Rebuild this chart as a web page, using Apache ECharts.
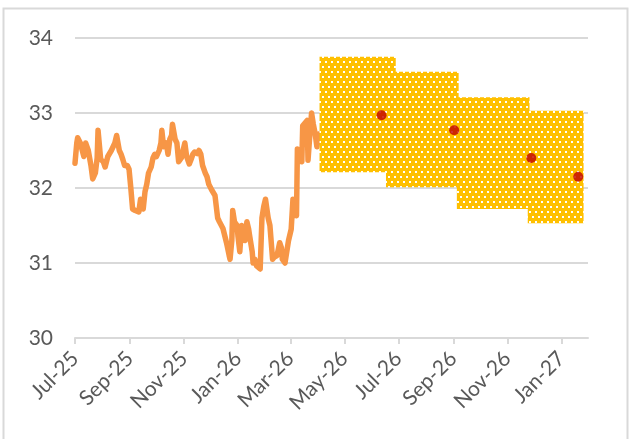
<!DOCTYPE html>
<html><head><meta charset="utf-8">
<script src="https://cdn.jsdelivr.net/npm/echarts@6/dist/echarts.min.js"></script>
<style>html,body{margin:0;padding:0;background:#fff}#c{width:632px;height:439px}</style>
</head><body><div id="c"></div>
<script>
// ---- data ----
const dates = ['2025-07-01','2025-07-03','2025-07-04','2025-07-07','2025-07-09','2025-07-11','2025-07-13','2025-07-16','2025-07-19','2025-07-21','2025-07-24','2025-07-26','2025-07-27','2025-07-28','2025-07-30','2025-08-02','2025-08-04','2025-08-06','2025-08-07','2025-08-11','2025-08-13','2025-08-15','2025-08-17','2025-08-20','2025-08-22','2025-08-24','2025-08-26','2025-08-29','2025-08-31','2025-09-02','2025-09-04','2025-09-07','2025-09-09','2025-09-11','2025-09-13','2025-09-16','2025-09-18','2025-09-20','2025-09-22','2025-09-25','2025-09-27','2025-09-29','2025-10-01','2025-10-04','2025-10-06','2025-10-07','2025-10-09','2025-10-12','2025-10-14','2025-10-16','2025-10-18','2025-10-19','2025-10-22','2025-10-24','2025-10-26','2025-10-29','2025-10-31','2025-11-02','2025-11-04','2025-11-07','2025-11-09','2025-11-11','2025-11-13','2025-11-16','2025-11-18','2025-11-20','2025-11-22','2025-11-25','2025-11-27','2025-11-29','2025-12-02','2025-12-06','2025-12-09','2025-12-11','2025-12-15','2025-12-19','2025-12-22','2025-12-23','2025-12-25','2025-12-26','2025-12-28','2025-12-31','2026-01-01','2026-01-03','2026-01-05','2026-01-09','2026-01-11','2026-01-13','2026-01-14','2026-01-17','2026-01-18','2026-01-20','2026-01-22','2026-01-26','2026-01-28','2026-01-30','2026-02-01','2026-02-04','2026-02-06','2026-02-08','2026-02-09','2026-02-11','2026-02-14','2026-02-17','2026-02-19','2026-02-20','2026-02-23','2026-02-25','2026-02-27','2026-03-02','2026-03-04','2026-03-06','2026-03-08','2026-03-09','2026-03-12','2026-03-14','2026-03-15','2026-03-17','2026-03-20','2026-03-21','2026-03-23','2026-03-25','2026-03-27','2026-03-29','2026-03-31','2026-04-02'];
const values = [32.33,32.6,32.67,32.6,32.62,32.42,32.6,32.5,32.3,32.12,32.2,32.4,32.77,32.75,32.38,32.35,32.28,32.3,32.42,32.5,32.55,32.6,32.7,32.5,32.45,32.38,32.3,32.3,32.25,32.0,31.72,31.7,31.72,31.68,31.85,31.72,31.95,32.05,32.2,32.28,32.4,32.45,32.42,32.5,32.6,32.77,32.55,32.6,32.45,32.65,32.7,32.85,32.65,32.6,32.35,32.4,32.5,32.6,32.42,32.32,32.38,32.45,32.48,32.46,32.5,32.45,32.3,32.2,32.15,32.05,31.98,31.9,31.6,31.55,31.46,31.27,31.1,31.05,31.3,31.7,31.55,31.5,31.35,31.15,31.5,31.3,31.55,31.45,31.37,31.15,31.0,31.05,30.96,30.92,31.6,31.75,31.85,31.6,31.5,31.2,31.05,31.08,31.1,31.27,31.2,31.05,31.0,30.98,31.3,31.45,31.85,31.8,31.63,32.52,32.4,32.35,32.83,32.85,32.9,32.37,32.7,33.0,32.85,32.73,32.55,32.72];

const rangeStart = ['2026-04-03','2026-06-17','2026-09-05','2026-11-24'];
const rangeEnd   = ['2026-06-28','2026-09-07','2026-11-26','2027-01-26'];
const rangeHigh  = [33.75,33.55,33.21,33.03];
const rangeLow   = [32.21,32.01,31.72,31.53];

const forecastDates  = ['2026-06-12','2026-09-02','2026-11-28','2027-01-20'];
const forecastValues = [32.97,32.77,32.40,32.15];

const tickDates = ['2025-07-01','2025-09-01','2025-11-01','2026-01-01','2026-03-01','2026-05-01','2026-07-01','2026-09-01','2026-11-01','2027-01-01'];
const monthNames = ['Jan','Feb','Mar','Apr','May','Jun','Jul','Aug','Sep','Oct','Nov','Dec'];
const xMin = '2025-07-01', xMax = '2027-01-31';

// ---- pattern ----
const pc = document.createElement('canvas');
pc.width = 6; pc.height = 10;
const pctx = pc.getContext('2d');
pctx.fillStyle = '#FFC000'; pctx.fillRect(0,0,6,10);
pctx.fillStyle = '#ffffff';
pctx.fillRect(1,1,2,2); pctx.fillRect(4,6,2,2);
const patternFill = { image: pc, repeat: 'repeat' };

const ts = s => { const p = s.split('-'); return Date.UTC(+p[0], +p[1]-1, +p[2]); };
const tickTs = tickDates.map(ts);

const chart = echarts.init(document.getElementById('c'), null, {renderer:'canvas'});
const font = 'Lato';
chart.setOption({
  animation: false,
  backgroundColor: '#fff',
  graphic: [{type:'rect', shape:{x:3.5, y:8.5, width:624, height:450}, style:{fill:'none', stroke:'#d9d9d9', lineWidth:2}, z:-1}],
  grid: {left: 75, right: 44, top: 38, bottom: 101},
  xAxis: {
    type: 'value', min: ts(xMin), max: ts(xMax),
    axisLine: {show: true, lineStyle: {color: '#d9d9d9', width: 2}},
    axisTick: {show: true, customValues: tickTs, length: 6, lineStyle: {color: '#d9d9d9', width: 2}},
    axisLabel: {
      customValues: tickTs, rotate: 45, margin: 17,
      color: '#595959', fontSize: 21, fontFamily: font,
      formatter: v => { const d = new Date(v); return monthNames[d.getUTCMonth()] + '-' + String(d.getUTCFullYear()).slice(2); }
    },
    splitLine: {show: false}
  },
  yAxis: {
    type: 'value', min: 30, max: 34, interval: 1,
    axisLine: {show: false}, axisTick: {show: false},
    axisLabel: {color: '#595959', fontSize: 21, fontFamily: font, margin: 22},
    splitLine: {lineStyle: {color: '#d9d9d9', width: 2}}
  },
  series: [
    {
      type: 'line', data: dates.map((d,i)=>[ts(d), values[i]]),
      showSymbol: false, symbol: 'none',
      lineStyle: {color: '#F79646', width: 5.5, join: 'round', cap: 'round'},
      z: 2
    },
    {
      type: 'custom',
      data: rangeStart.map((s,i)=>[ts(s), ts(rangeEnd[i]), rangeHigh[i], rangeLow[i]]),
      encode: {x: [0,1], y: [2,3]},
      renderItem: (params, api) => {
        const p1 = api.coord([api.value(0), api.value(2)]);
        const p2 = api.coord([api.value(1), api.value(3)]);
        return {type: 'rect', shape: {x: p1[0], y: p1[1], width: p2[0]-p1[0], height: p2[1]-p1[1]}, style: {fill: patternFill}};
      },
      z: 3
    },
    {
      type: 'scatter', data: forecastDates.map((d,i)=>[ts(d), forecastValues[i]]),
      symbol: 'circle', symbolSize: 10, itemStyle: {color: '#C00000'}, z: 4
    }
  ]
});
</script></body></html>
